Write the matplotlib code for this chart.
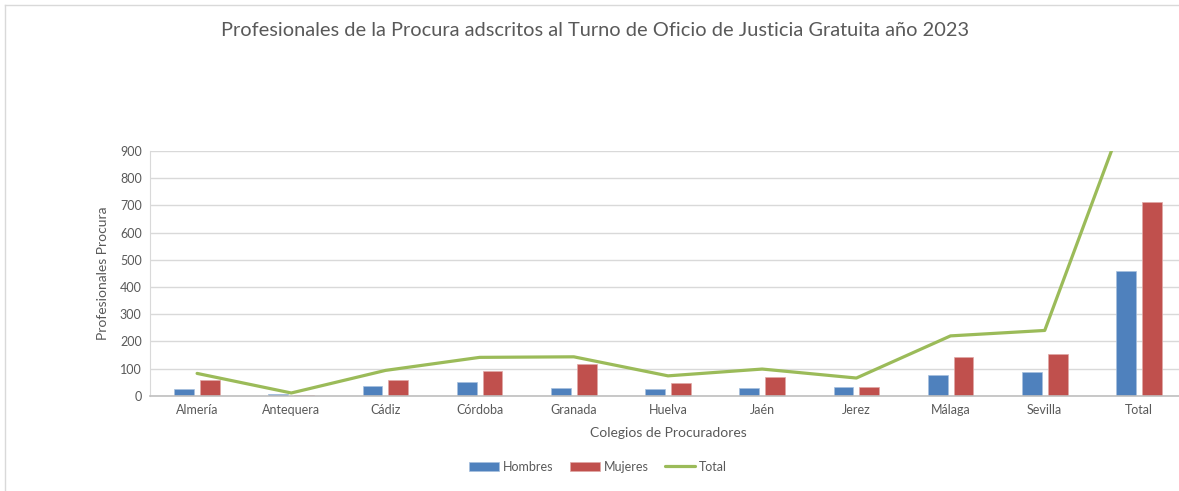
import numpy as np
import matplotlib.pyplot as plt
from matplotlib.lines import Line2D

plt.rcParams['font.family'] = ['Lato', 'DejaVu Sans']

colegios = ["Almería", "Antequera", "Cádiz", "Córdoba", "Granada", "Huelva",
            "Jaén", "Jerez", "Málaga", "Sevilla", "Total"]
hombres = [24, 5, 35, 49, 27, 25, 29, 32, 77, 86, 460]
mujeres = [58, 3, 58, 91, 115, 47, 68, 31, 143, 152, 712]
total = [82, 10, 93, 141, 143, 73, 98, 65, 220, 240, 1172]

c_blue = "#4F81BD"
c_red = "#C0504D"
c_green = "#9BBB59"
c_text = "#595959"

fig = plt.figure(figsize=(11.79, 4.91), dpi=100)
ax = fig.add_axes([150/1179, 1 - 395.7/491, 1036/1179, 244.7/491])

x = np.arange(len(colegios))
w = 0.21
b1 = ax.bar(x - 0.137, hombres, w, color=c_blue, edgecolor="#A7C0DE", linewidth=0.5,
            label="Hombres", zorder=2)
b2 = ax.bar(x + 0.137, mujeres, w, color=c_red, edgecolor="#E0A8A6", linewidth=0.5,
            label="Mujeres", zorder=2)
l1, = ax.plot(x, total, color=c_green, lw=2.3, label="Total", zorder=3,
              solid_capstyle="round")

ax.set_xlim(-0.5, 10.5)
ax.set_ylim(0, 900)
ax.set_yticks(np.arange(0, 901, 100))
ax.set_xticks(x)
ax.set_xticklabels(colegios)
ax.tick_params(length=0, labelsize=9, colors=c_text, pad=6)
ax.yaxis.grid(True, color="#D9D9D9", lw=1)
ax.set_axisbelow(True)
for s in ["top", "right"]:
    ax.spines[s].set_visible(False)
ax.spines["left"].set_color("#D9D9D9")
ax.spines["bottom"].set_color("#BFBFBF")
ax.spines["bottom"].set_linewidth(1.2)

ax.set_ylabel("Profesionales Procura", fontsize=10, color=c_text, labelpad=8)
ax.set_xlabel("Colegios de Procuradores", fontsize=10, color=c_text, labelpad=8)

fig.text(595/1179, 1 - 31/491, "Profesionales de la Procura adscritos al Turno de Oficio de Justicia Gratuita año 2023",
         ha="center", va="center", fontsize=14.4, color=c_text)

fig.legend([b1, b2, l1], ["Hombres", "Mujeres", "Total"], loc="center",
           bbox_to_anchor=(598/1179, 1 - 467/491), ncol=3, frameon=False,
           fontsize=9, labelcolor=c_text, handlelength=2.4, handleheight=0.8,
           columnspacing=1.3, handletextpad=0.3)

fig.add_artist(Line2D([5/1179, 5/1179], [0, 1 - 5/491], color="#D9D9D9", lw=1))
fig.add_artist(Line2D([5/1179, 1], [1 - 5/491, 1 - 5/491], color="#D9D9D9", lw=1))

fig.savefig("out.png", dpi=100)
